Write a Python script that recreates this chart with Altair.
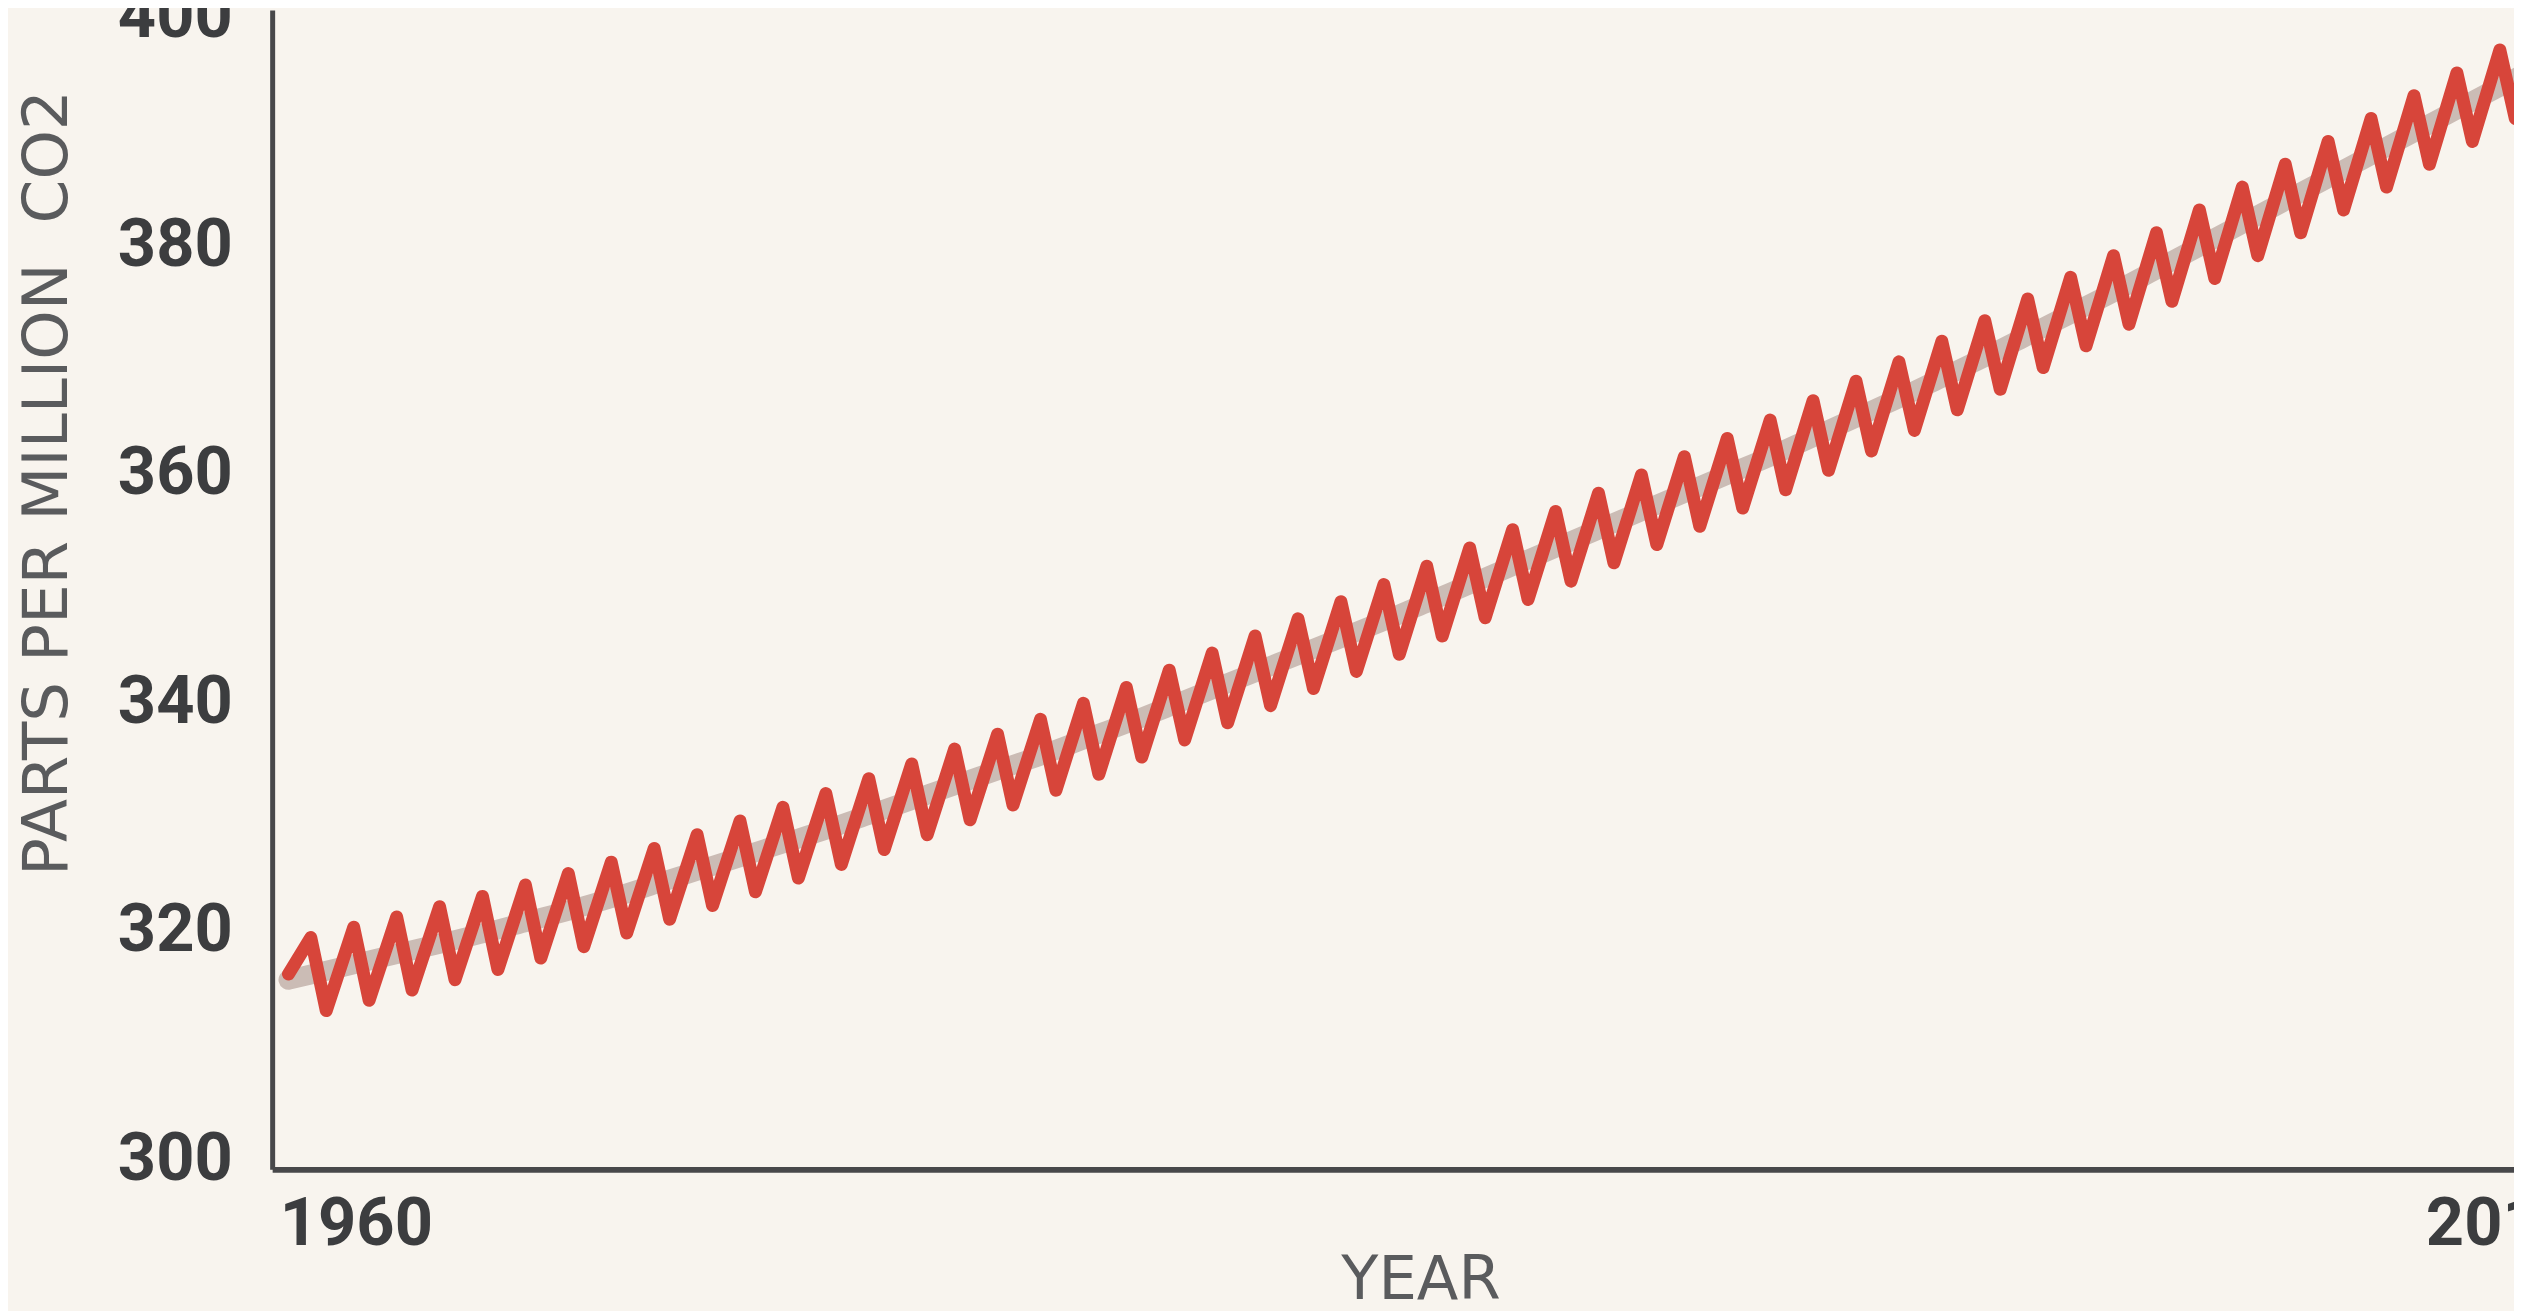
import altair as alt
import pandas as pd

# ---- data (ppm CO2) ----
record_start_year = 1958.43
record_start_ppm = 316.2
trend_start_ppm = 315.7

peak_years = list(range(1958, 2011))
peak_ppm = [319.4, 320.3, 321.2, 322.1, 323.0, 324.0, 325.0, 326.0, 327.2, 328.4,
            329.6, 330.8, 332.0, 333.3, 334.6, 335.9, 337.2, 338.5, 339.9, 341.3,
            342.8, 344.3, 345.8, 347.3, 348.8, 350.3, 351.9, 353.5, 355.1, 356.7,
            358.3, 359.9, 361.5, 363.1, 364.7, 366.4, 368.1, 369.8, 371.6, 373.4,
            375.3, 377.2, 379.1, 381.1, 383.1, 385.1, 387.1, 389.1, 391.1, 393.1,
            395.1, 397.1, 399.1]

trough_years = list(range(1959, 2011))
trough_ppm = [313.0, 313.9, 314.8, 315.7, 316.6, 317.6, 318.6, 319.8, 321.0, 322.2,
              323.4, 324.6, 325.8, 327.1, 328.4, 329.7, 331.0, 332.3, 333.7, 335.2,
              336.7, 338.2, 339.7, 341.2, 342.7, 344.2, 345.8, 347.4, 349.0, 350.6,
              352.2, 353.8, 355.4, 357.0, 358.6, 360.3, 362.0, 363.8, 365.6, 367.4,
              369.3, 371.2, 373.1, 375.1, 377.1, 379.1, 381.1, 383.1, 385.1, 387.1,
              389.1, 391.1]

trend_years = list(range(1959, 2012))
trend_ppm = [316.2, 317.1, 318.0, 318.9, 319.8, 320.8, 321.8, 322.9, 324.1, 325.3,
             326.5, 327.7, 328.9, 330.2, 331.5, 332.8, 334.1, 335.4, 336.8, 338.2,
             339.7, 341.2, 342.7, 344.2, 345.7, 347.2, 348.8, 350.4, 352.0, 353.6,
             355.2, 356.8, 358.4, 360.0, 361.6, 363.3, 365.0, 366.7, 368.5, 370.3,
             372.2, 374.1, 376.0, 378.0, 380.0, 382.0, 384.0, 386.0, 388.0, 390.0,
             392.0, 394.0, 396.0]

peak_phase = 0.95     # fraction of the year where the seasonal maximum sits in the picture
trough_phase = 0.31   # fraction of the year where the seasonal minimum sits

x_ticks = [1960, 2010]
y_ticks = [300, 320, 340, 360, 380, 400]

# ---- tables ----
rows = [{"year": record_start_year, "ppm": record_start_ppm}]
rows += [{"year": y + peak_phase, "ppm": v} for y, v in zip(peak_years, peak_ppm)]
rows += [{"year": y + trough_phase, "ppm": v} for y, v in zip(trough_years, trough_ppm)]
monthly = pd.DataFrame(rows).sort_values("year")

trend = pd.DataFrame(
    [{"year": record_start_year, "ppm": trend_start_ppm}]
    + [{"year": y, "ppm": v} for y, v in zip(trend_years, trend_ppm)]
)

# ---- styling ----
BG = "#f8f4ee"
RED = "#d7453a"
GREY = "#cbbcb5"
AXIS = "#48484a"
LABEL = "#3c3d3f"
TITLE = "#5a5b5d"

x_scale = alt.Scale(domain=[1958.05, 2010.28], nice=False, zero=False)
y_scale = alt.Scale(domain=[299.1, 400.6], nice=False, zero=False)

x_axis = alt.Axis(
    values=x_ticks, format="d", title="YEAR", ticks=False, grid=False,
    domainColor=AXIS, domainWidth=6,
    labelFont="Roboto", labelFontWeight="bold", labelFontSize=67, labelColor=LABEL,
    labelPadding=22, labelFlush=False, labelOverlap=False,
    titleFont="DejaVu Sans", titleFontWeight="normal", titleFontSize=61, titleColor=TITLE,
    titleX=1152, titleY=130, titleBaseline="alphabetic", titleAlign="center",
)
y_axis = alt.Axis(
    values=y_ticks, format="d", title="PARTS PER MILLION\u00a0 CO2", ticks=False, grid=False,
    domainColor=AXIS, domainWidth=5,
    labelFont="Roboto", labelFontWeight="bold", labelFontSize=67, labelColor=LABEL,
    labelPadding=40, labelOverlap=False,
    titleFont="DejaVu Sans", titleFontWeight="normal", titleFontSize=63, titleColor=TITLE,
    titleX=-206, titleY=474, titleBaseline="alphabetic", titleAlign="center", titleAngle=270,
)

trend_line = alt.Chart(trend).mark_line(
    color=GREY, strokeWidth=20, interpolate="monotone", clip=True, strokeCap="round"
).encode(
    x=alt.X("year:Q", scale=x_scale, axis=x_axis),
    y=alt.Y("ppm:Q", scale=y_scale, axis=y_axis),
)

season_line = alt.Chart(monthly).mark_line(
    color=RED, strokeWidth=13, strokeJoin="round", strokeCap="round", clip=True
).encode(
    x=alt.X("year:Q", scale=x_scale),
    y=alt.Y("ppm:Q", scale=y_scale),
)

chart = (
    alt.layer(trend_line, season_line)
    .properties(
        width=2249,
        height=1163,
        autosize=alt.AutoSizeParams(type="none"),
        padding={"left": 265, "top": 0, "right": 0, "bottom": 140},
        background=BG,
    )
    .configure_view(stroke=None)
)

chart.save("out.html", embed_options={"renderer": "svg", "actions": False})
